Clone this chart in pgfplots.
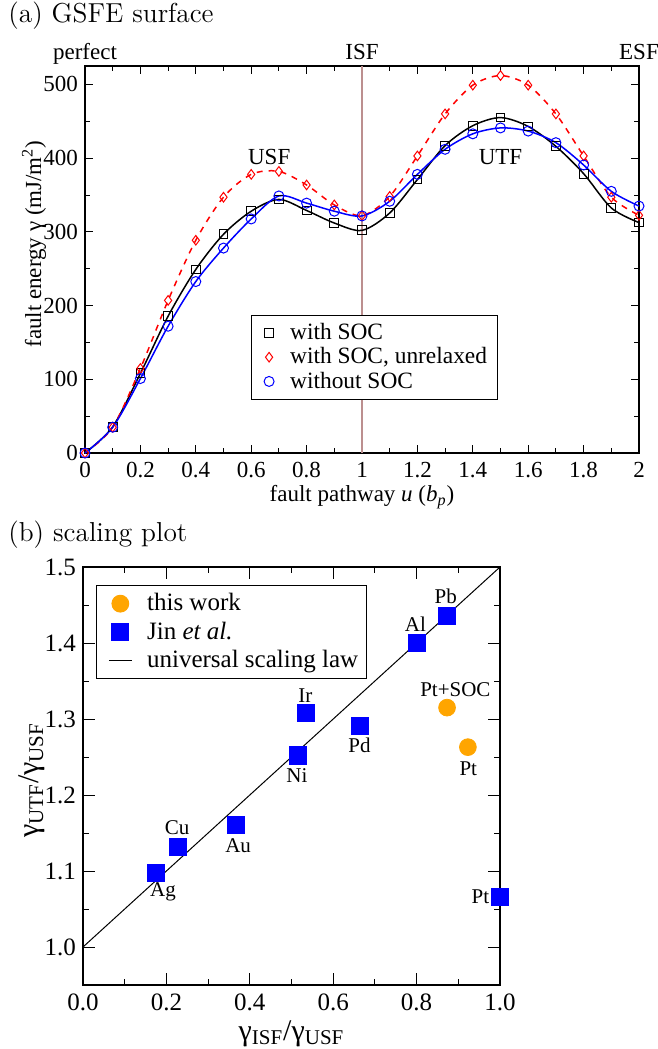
\documentclass[border=0pt]{standalone}
\usepackage{fontspec}
\usepackage{pgfplots}
\pgfplotsset{compat=1.18}
\newfontfamily\tms{Liberation Serif}
\definecolor{vline}{RGB}{188,143,143}
\definecolor{jinblue}{RGB}{0,0,255}
\definecolor{thisorange}{RGB}{255,165,0}
\newcommand{\fs}[1]{\fontsize{#1}{#1}\selectfont}

\pgfkeys{/pgf/number format/assume math mode=true}
\pgfplotsset{
  grace/.style={
    scale only axis, clip=false,
    tick align=inside, xtick pos=both, ytick pos=both,
    axis line style={line width=1pt},
    every tick/.style={black, line width=0.5pt},
    xticklabel={\pgfmathprintnumber{\tick}},
    yticklabel={\pgfmathprintnumber{\tick}},
    legend cell align=left,
  },
  marksonly/.style={legend image code/.code={\path[draw=none, fill=none] (0cm,0cm) -- (0.5cm,0cm);
    \draw[##1, only marks] plot coordinates {(0.2cm,0cm)};}},
  shortline/.style={legend image code/.code={\path[draw=none, fill=none] (0cm,0cm) -- (0.75cm,0cm);
    \draw[##1] (0.15cm,0cm) -- (0.55cm,0cm);}},
  bigmark/.style={legend image code/.code={\path[draw=none, fill=none] (0cm,0cm) -- (0.75cm,0cm);
    \draw[##1, only marks] plot coordinates {(0.35cm,0cm)};}},
}

\begin{document}
\begin{tikzpicture}
\path[use as bounding box] (0,0) rectangle (329pt,-524.5pt);
\node[anchor=base west, inner sep=0] at (4pt,-11.5pt) {\fs{13.7}(a) GSFE surface};
\node[anchor=base west, inner sep=0] at (4pt,-270.5pt) {\fs{13.7}(b) scaling plot};

% (a) GSFE surface
\begin{axis}[grace,
  at={(42.5pt,-226.5pt)}, anchor=south west,
  width=277pt, height=193.5pt,
  xmin=0, xmax=2, ymin=0, ymax=525,
  xtick={0,0.2,0.4,0.6,0.8,1,1.2,1.4,1.6,1.8,2},
  ytick={0,100,200,300,400,500},
  minor tick num=1,
  major tick length=4pt, minor tick length=2.5pt,
  tick label style={font=\tms\fs{11.5}},
  xticklabel style={yshift=-1pt},
  xlabel={fault pathway \textit{u} (\textit{b}\textsubscript{\textit{p}})},
  ylabel={fault energy γ (mJ/m\textsuperscript{2})},
  label style={font=\tms\fs{11.5}},
  xlabel style={at={(axis description cs:0.5,-0.114)}, anchor=center},
  ylabel style={at={(axis description cs:-0.092,0.54)}, anchor=center},
  legend style={at={(axis description cs:0.30,0.357)}, anchor=north west,
    font=\tms\fs{11.7}, draw=black, line width=0.5pt, row sep=-1.5pt,
    inner xsep=3pt, inner ysep=2pt},
]
\addplot[vline, line width=0.75pt, forget plot] coordinates {(1,0) (1,525)};
\addplot[black, line width=0.75pt, smooth, mark=square, mark size=2.2pt, marksonly,
  mark options={solid, fill=white, line width=0.5pt}] coordinates {
  (0,0) (0.1,35.6) (0.2,108) (0.3,185.6) (0.4,249) (0.5,296.7) (0.6,328)
  (0.7,344) (0.8,329) (0.9,312) (1.0,302) (1.1,325.6) (1.2,371) (1.3,417)
  (1.4,444) (1.5,455) (1.6,443) (1.7,416) (1.8,379) (1.9,332.4) (2.0,312.6)};
\addlegendentry{with SOC}
\addplot[red, line width=0.75pt, smooth, dashed, mark=diamond, mark size=2.4pt, marksonly,
  mark options={solid, line width=0.5pt}] coordinates {
  (0,0) (0.1,35) (0.2,114.7) (0.3,207) (0.4,288.6) (0.5,347) (0.6,378)
  (0.7,382) (0.8,363.6) (0.9,336.5) (1.0,322) (1.1,348) (1.2,403) (1.3,460)
  (1.4,499) (1.5,512) (1.6,499) (1.7,460) (1.8,403) (1.9,347) (2.0,322.5)};
\addlegendentry{with SOC, unrelaxed}
\addplot[jinblue, line width=0.75pt, smooth, mark=o, mark size=2.5pt, marksonly,
  mark options={solid, fill=white, line width=0.5pt}] coordinates {
  (0,0) (0.1,35) (0.2,101) (0.3,172) (0.4,232.6) (0.5,278) (0.6,317.5)
  (0.7,348.7) (0.8,339) (0.9,328) (1.0,321.6) (1.1,341.5) (1.2,378) (1.3,412)
  (1.4,433) (1.5,441) (1.6,436.7) (1.7,421) (1.8,390.7) (1.9,355) (2.0,335)};
\addlegendentry{without SOC}
\node[font=\tms\fs{11.5}, anchor=base, yshift=3pt] at (axis cs:0,525) {perfect};
\node[font=\tms\fs{11.5}, anchor=base, yshift=3pt] at (axis cs:1,525) {ISF};
\node[font=\tms\fs{11.5}, anchor=base, yshift=3pt] at (axis cs:2,525) {ESF};
\node[font=\tms\fs{11.5}] at (axis cs:0.665,401) {USF};
\node[font=\tms\fs{11.5}] at (axis cs:1.5,401) {UTF};
\end{axis}

% (b) scaling plot
\begin{axis}[grace,
  at={(41.5pt,-492.5pt)}, anchor=south west,
  width=208.5pt, height=209pt,
  xmin=0, xmax=1, ymin=0.95, ymax=1.5,
  xtick={0,0.2,0.4,0.6,0.8,1},
  ytick={1.0,1.1,1.2,1.3,1.4,1.5},
  minor xtick={0.1,0.3,0.5,0.7,0.9},
  minor ytick={0.95,1.05,1.15,1.25,1.35,1.45},
  major tick length=6pt, minor tick length=3pt,
  /pgf/number format/fixed,
  /pgf/number format/fixed zerofill,
  /pgf/number format/precision=1,
  tick label style={font=\tms\fs{12.5}},
  xticklabel style={yshift=-1pt},
  xlabel={γ\textsubscript{ISF}/γ\textsubscript{USF}},
  ylabel={γ\textsubscript{UTF}/γ\textsubscript{USF}},
  label style={font=\tms\fs{15}},
  xlabel style={at={(axis description cs:0.5,-0.117)}, anchor=center},
  ylabel style={at={(axis description cs:-0.122,0.49)}, anchor=center},
  legend style={at={(axis description cs:0.031,0.957)}, anchor=north west,
    font=\tms\fs{12.5}, draw=black, line width=0.5pt, row sep=0pt,
    inner xsep=2pt, inner ysep=2pt},
]
\addplot[only marks, mark=*, mark size=4.2pt, thisorange, bigmark] coordinates {
  (0.873,1.315) (0.923,1.263)};
\addlegendentry{this work}
\addplot[only marks, mark=square*, mark size=4.3pt, jinblue, bigmark] coordinates {
  (0.175,1.098) (0.228,1.132) (0.367,1.161) (0.515,1.252) (0.534,1.308)
  (0.664,1.291) (0.80,1.40) (0.873,1.436) (1.0,1.066)};
\addlegendentry{Jin \textit{et al.}}
\addplot[black, line width=0.5pt, shortline] coordinates {(0,1) (1,1.5)};
\addlegendentry{universal scaling law}
\node[font=\tms\fs{10.5}] at (axis cs:0.870,1.462) {Pb};
\node[font=\tms\fs{10.5}] at (axis cs:0.797,1.425) {Al};
\node[font=\tms\fs{10.5}] at (axis cs:0.893,1.338) {Pt+SOC};
\node[font=\tms\fs{10.5}] at (axis cs:0.533,1.331) {Ir};
\node[font=\tms\fs{10.5}] at (axis cs:0.663,1.266) {Pd};
\node[font=\tms\fs{10.5}] at (axis cs:0.924,1.235) {Pt};
\node[font=\tms\fs{10.5}] at (axis cs:0.513,1.225) {Ni};
\node[font=\tms\fs{10.5}] at (axis cs:0.226,1.157) {Cu};
\node[font=\tms\fs{10.5}] at (axis cs:0.372,1.134) {Au};
\node[font=\tms\fs{10.5}] at (axis cs:0.192,1.072) {Ag};
\node[font=\tms\fs{10.5}] at (axis cs:0.953,1.066) {Pt};
\end{axis}
\end{tikzpicture}
\end{document}
